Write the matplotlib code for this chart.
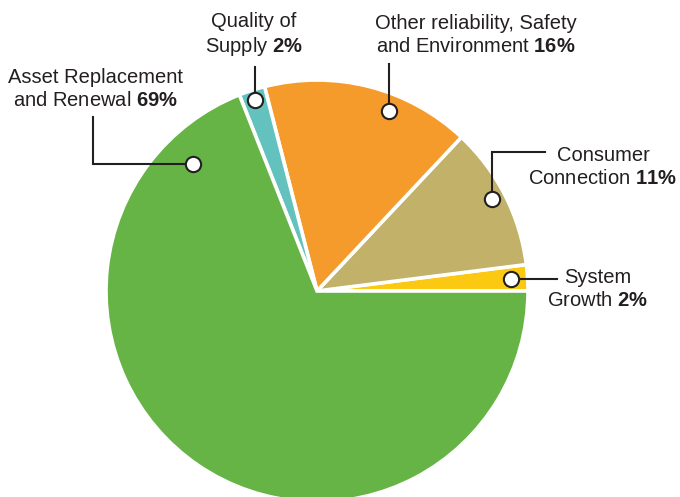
"""Capital expenditure split pie chart with leader-line labels."""

import matplotlib

matplotlib.use("Agg")
import matplotlib.pyplot as plt
import numpy as np

# data (counter-clockwise from 3 o'clock)
categories = ["System\nGrowth", "Consumer\nConnection", "Other reliability, Safety\nand Environment", "Quality of\nSupply", "Asset Replacement\nand Renewal"]
shares = [2, 11, 16, 2, 69]

COLOURS = ["#fbc912", "#c2b168", "#f59b2c", "#63c2be", "#66b446"]
TEXT = "#231f20"
W, H = 680, 497
CENTRE = (317, 291)
RADIUS = 211

# layout: where in each wedge the dot sits (fraction of sweep, fraction of radius)
DOT_SWEEP = [0.5, 0.52, 0.37, 0.5, 0.092]
DOT_RADIUS = [0.92, 0.935, 0.92, 0.95, 0.84]
# layout: label centre (px) and leader path after the dot, "h"/"v"/"vh"/"hv"
LABEL_XY = [(598, 289), (603, 167), (476, 35), (254, 35), (95, 89)]
LEADER_END = [(557, None), (545, 152), (None, 64), (None, 67), (93, 117)]
LEADER_KIND = ["h", "vh", "v", "v", "hv"]

plt.rcParams["font.family"] = ["Liberation Sans", "DejaVu Sans"]
plt.rcParams["mathtext.fontset"] = "custom"
plt.rcParams["mathtext.rm"] = "Liberation Sans"
plt.rcParams["mathtext.bf"] = "Liberation Sans:bold"

fig = plt.figure(figsize=(W / 100, H / 100), dpi=100)
ax = fig.add_axes([0, 0, 1, 1])


def py(y):
    return H - y


wedges, _ = ax.pie(shares, colors=COLOURS, startangle=0, counterclock=True, center=(CENTRE[0], py(CENTRE[1])),
                   radius=RADIUS, frame=True, wedgeprops={"edgecolor": "white", "linewidth": 2.6})
ax.set_xlim(0, W)
ax.set_ylim(0, H)
ax.set_aspect("equal")
ax.axis("off")

for i, wedge in enumerate(wedges):
    theta = np.deg2rad(wedge.theta1 + DOT_SWEEP[i] * (wedge.theta2 - wedge.theta1))
    dx = CENTRE[0] + DOT_RADIUS[i] * RADIUS * np.cos(theta)
    dy = py(CENTRE[1]) + DOT_RADIUS[i] * RADIUS * np.sin(theta)
    ex, ey = LEADER_END[i]
    kind = LEADER_KIND[i]
    if kind == "h":
        xs, ys = [dx, ex], [dy, dy]
    elif kind == "v":
        xs, ys = [dx, dx], [dy, py(ey)]
    elif kind == "vh":
        xs, ys = [dx, dx, ex], [dy, py(ey), py(ey)]
    else:
        xs, ys = [dx, ex, ex], [dy, dy, py(ey)]
    ax.plot(xs, ys, color=TEXT, linewidth=1.5, solid_joinstyle="miter", zorder=3)
    ax.plot(dx, dy, "o", markersize=11, markerfacecolor="white", markeredgecolor=TEXT, markeredgewidth=1.5, zorder=4)
    label = f"{categories[i]} $\\mathbf{{{shares[i]}\\%}}$"
    lx, ly = LABEL_XY[i]
    ax.text(lx, py(ly), label, ha="center", va="center", multialignment="center", fontsize=14.5,
            color=TEXT, linespacing=1.27)

fig.savefig("out.png", dpi=100, facecolor="white")
